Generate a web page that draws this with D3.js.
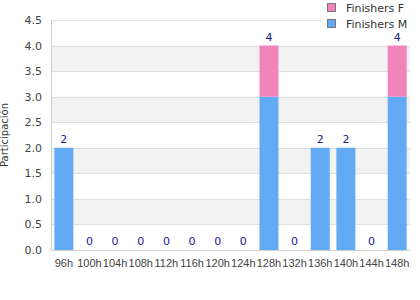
<!DOCTYPE html>
<html>
<head>
<meta charset="utf-8">
<script src="https://cdn.jsdelivr.net/npm/d3@7"></script>
<style>
  body { margin: 0; background: #fff; }
  svg { font-family: "DejaVu Sans", Verdana, sans-serif; display: block; }
</style>
</head>
<body>
<div class="container"></div>
<script>
var categories = ["96h", "100h", "104h", "108h", "112h", "116h", "120h", "124h", "128h", "132h", "136h", "140h", "144h", "148h"];
var finishersM = [2, 0, 0, 0, 0, 0, 0, 0, 3, 0, 2, 2, 0, 3];
var finishersF = [0, 0, 0, 0, 0, 0, 0, 0, 1, 0, 0, 0, 0, 1];
var yTicks = [0, 0.5, 1, 1.5, 2, 2.5, 3, 3.5, 4, 4.5];

var svgWidth = 420;
var svgHeight = 300;
var chartMargin = { top: 20, bottom: 50, left: 51, right: 10 };
var chartWidth = svgWidth - (chartMargin.left + chartMargin.right);
var chartHeight = svgHeight - (chartMargin.top + chartMargin.bottom);

var svg = d3.select(".container")
    .append("svg")
    .attr("width", svgWidth)
    .attr("height", svgHeight);

var chartGroup = svg.append("g")
    .attr("transform", `translate(${chartMargin.left}, ${chartMargin.top})`);

var xBandScale = d3.scaleBand()
    .domain(categories)
    .range([0, chartWidth])
    .paddingInner(0.26)
    .paddingOuter(0.13);

var yLinearScale = d3.scaleLinear()
    .domain([0, 4.5])
    .range([chartHeight, 0]);

// alternating background bands
chartGroup.selectAll(".band")
    .data(yTicks.slice(0, -1).filter((d, i) => i % 2 === 1))
    .enter()
    .append("rect")
    .attr("x", 0)
    .attr("width", chartWidth)
    .attr("y", d => yLinearScale(d + 0.5))
    .attr("height", d => yLinearScale(d) - yLinearScale(d + 0.5))
    .attr("fill", "#f2f2f2");

// grid lines
chartGroup.selectAll(".grid")
    .data(yTicks)
    .enter()
    .append("line")
    .attr("x1", 0)
    .attr("x2", chartWidth)
    .attr("y1", d => Math.round(yLinearScale(d)) + 0.5)
    .attr("y2", d => Math.round(yLinearScale(d)) + 0.5)
    .attr("stroke", "#e0e0e0");

var stackData = categories.map((c, i) => ({ cat: c, m: finishersM[i], f: finishersF[i] }));

chartGroup.selectAll(".barM")
    .data(stackData)
    .enter()
    .append("rect")
    .attr("x", d => xBandScale(d.cat))
    .attr("width", xBandScale.bandwidth())
    .attr("y", d => yLinearScale(d.m))
    .attr("height", d => yLinearScale(0) - yLinearScale(d.m))
    .attr("fill", "#62aaf4");

chartGroup.selectAll(".barF")
    .data(stackData)
    .enter()
    .append("rect")
    .attr("x", d => xBandScale(d.cat))
    .attr("width", xBandScale.bandwidth())
    .attr("y", d => yLinearScale(d.m + d.f))
    .attr("height", d => yLinearScale(d.m) - yLinearScale(d.m + d.f))
    .attr("fill", "#f284bc");

// total labels
chartGroup.selectAll(".total")
    .data(stackData)
    .enter()
    .append("text")
    .attr("x", d => xBandScale(d.cat) + xBandScale.bandwidth() / 2)
    .attr("y", d => yLinearScale(d.m + d.f) - 5)
    .attr("text-anchor", "middle")
    .attr("font-size", "11px")
    .attr("fill", "#1a1a8c")
    .text(d => d.m + d.f);

// axes
var bottomAxis = d3.axisBottom(xBandScale).tickSize(0).tickPadding(9);
var leftAxis = d3.axisLeft(yLinearScale).tickValues(yTicks).tickSize(0).tickPadding(9)
    .tickFormat(d3.format(".1f"));

var xAxisG = chartGroup.append("g")
    .attr("transform", `translate(0, ${chartHeight})`)
    .call(bottomAxis);
xAxisG.select(".domain").attr("stroke", "#d0d0d0");
xAxisG.selectAll("text").attr("fill", "#444").attr("font-size", "11px")
    .attr("font-family", "Liberation Sans, Arial, sans-serif");

var yAxisG = chartGroup.append("g").call(leftAxis);
yAxisG.select(".domain").attr("stroke", "#d0d0d0");
yAxisG.selectAll("text").attr("fill", "#444").attr("font-size", "11px")
    .attr("font-family", "DejaVu Sans");

chartGroup.append("text")
    .attr("transform", `translate(${-chartMargin.left + 8}, ${chartHeight / 2}) rotate(-90)`)
    .attr("text-anchor", "middle")
    .attr("font-size", "10px")
    .attr("fill", "#333")
    .text("Participación");

// legend
var legendItems = [
    { name: "Finishers F", color: "#f284bc" },
    { name: "Finishers M", color: "#62aaf4" }
];
var legend = svg.append("g").attr("transform", "translate(322, 0)");
legend.append("rect")
    .attr("x", 0).attr("y", 0).attr("width", 98).attr("height", 30)
    .attr("fill", "#fff");
var li = legend.selectAll(".leg")
    .data(legendItems)
    .enter()
    .append("g")
    .attr("transform", (d, i) => `translate(5, ${3 + i * 16})`);
li.append("rect")
    .attr("x", 0.5).attr("y", 0.5).attr("width", 8).attr("height", 8)
    .attr("fill", d => d.color)
    .attr("stroke", "#777");
li.append("text")
    .attr("x", 19)
    .attr("y", 8.5)
    .attr("font-size", "11px")
    .attr("fill", "#333")
    .text(d => d.name);
</script>
</body>
</html>
